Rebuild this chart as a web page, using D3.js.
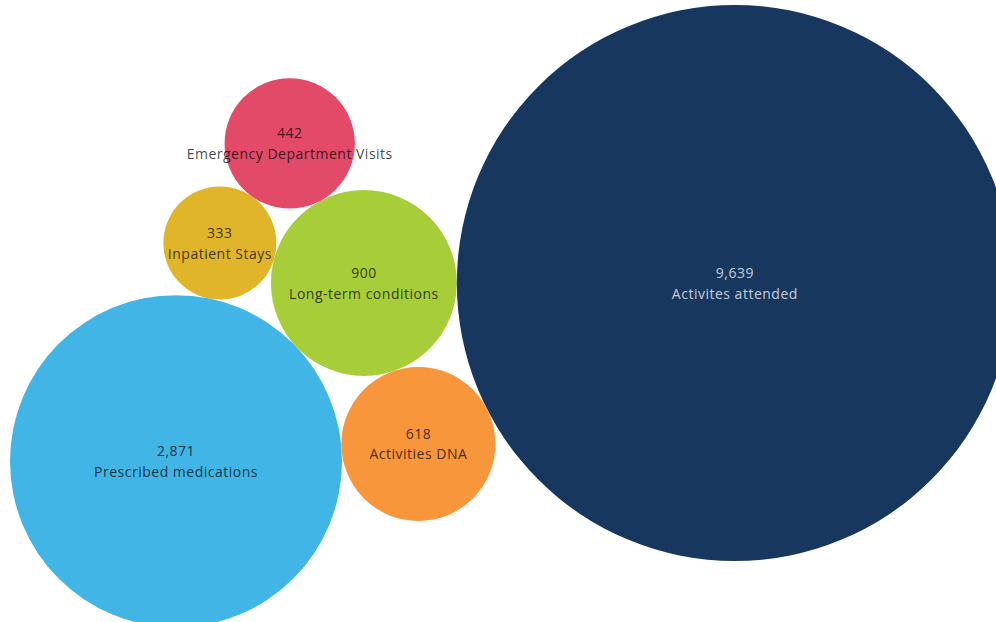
<!DOCTYPE html>
<html>
<head>
<meta charset="utf-8">
<script src="https://cdn.jsdelivr.net/npm/d3@7"></script>
<style>
  html, body { margin: 0; padding: 0; background: #ffffff; overflow: hidden; }
  svg { display: block; }
</style>
</head>
<body>
<svg id="chart" width="996" height="622"></svg>
<script>
// ---- Data ----
const categories = ["Long-term conditions", "Activites attended", "Activities DNA", "Prescribed medications", "Inpatient Stays", "Emergency Department Visits"];
const values     = [900, 9639, 618, 2871, 333, 442];
const colors     = ["#a7ce39", "#17375e", "#f8963c", "#41b6e6", "#e1b52a", "#e24a68"];
const labelColors = ["rgba(0,0,0,0.74)", "rgba(255,255,255,0.76)", "rgba(0,0,0,0.74)", "rgba(0,0,0,0.74)", "rgba(0,0,0,0.74)", "rgba(0,0,0,0.74)"];

const W = 996, H = 622;
const svg = d3.select("#chart");

// Bubble size scale (Tableau-like, capped growth for the largest bubble)
const rScale = d3.scaleSqrt().domain([0, 2871, 9639]).range([0, 166, 278]);

const nodes = categories.map((c, i) => ({ name: c, value: values[i], color: colors[i], text: labelColors[i], r: rScale(values[i]) }));

// ---- Packing layout: first bubble is the anchor; each next bubble is tangent
// to the anchor and to the previously placed bubble, winding around the anchor.
const anchor = nodes[0];
anchor.x = 0; anchor.y = 0;
nodes[1].x = anchor.r + nodes[1].r; nodes[1].y = 0;
for (let i = 2; i < nodes.length; i++) {
  const q = nodes[i - 1], c = nodes[i];
  const dA = anchor.r + c.r, dQ = q.r + c.r;
  const d = Math.hypot(q.x - anchor.x, q.y - anchor.y);
  const theta = Math.acos((dA * dA + d * d - dQ * dQ) / (2 * dA * d));
  const ang = Math.atan2(q.y - anchor.y, q.x - anchor.x) + theta;
  c.x = anchor.x + dA * Math.cos(ang);
  c.y = anchor.y + dA * Math.sin(ang);
}

const minX = d3.min(nodes, d => d.x - d.r);
const minY = d3.min(nodes, d => d.y - d.r);
const offX = 10 - minX, offY = 5 - minY;

const g = svg.append("g").attr("transform", `translate(${offX},${offY})`);

g.selectAll("circle")
  .data(nodes)
  .join("circle")
  .attr("cx", d => d.x)
  .attr("cy", d => d.y)
  .attr("r", d => d.r)
  .attr("fill", d => d.color);

const fmt = d3.format(",");
const labels = g.selectAll("g.label")
  .data(nodes)
  .join("g")
  .attr("class", "label")
  .attr("transform", d => `translate(${d.x},${d.y})`)
  .style("font-family", "'Open Sans', 'Noto Sans', sans-serif")
  .style("font-size", "14px")
  .style("letter-spacing", "0.5px")
  .attr("text-anchor", "middle");

labels.append("text")
  .attr("y", -5)
  .attr("fill", d => d.text)
  .text(d => fmt(d.value));

labels.append("text")
  .attr("y", 15.5)
  .attr("fill", d => d.text)
  .text(d => d.name);
</script>
</body>
</html>
